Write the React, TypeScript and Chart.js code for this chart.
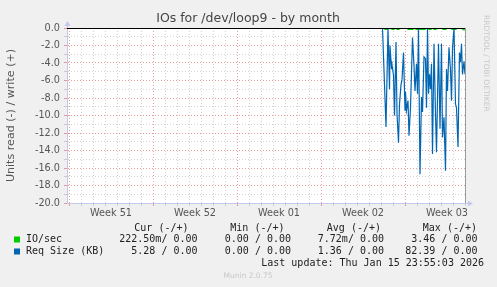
import React, { useEffect, useRef } from "react";
import { Chart, registerables } from "chart.js";
Chart.register(...registerables);

const TITLE = "IOs for /dev/loop9 - by month";
const Y_TITLE = "Units read (-) / write (+)";
const SIDE_TEXT = "RRDTOOL / TOBI OETIKER";
const FOOTER = "Munin 2.0.75";
const LAST_UPDATE = "Last update: Thu Jan 15 23:55:03 2026";

// x values are hours from the left edge of the graph
const WEEK_LABELS = ["Week 51", "Week 52", "Week 01", "Week 02", "Week 03"];
const WEEK_START_OFFSET = 4;
const HOURS_PER_WEEK = 168;
const X_MAX = 796;

const reqHours = [0, 631, 638, 642, 645, 646, 649, 650, 653, 655, 658, 660, 663, 665, 668, 670, 673, 676, 677, 679, 682, 684, 687, 691, 694, 696, 699, 701, 703, 706, 709, 711, 714, 717, 719, 721, 723, 725, 727, 729, 731, 734, 737, 739, 743, 746, 749, 751, 754, 757, 759, 761, 764, 767, 769, 771, 774, 777, 779, 782, 785, 787, 789, 791, 794, 796];
const reqRead = [0, 0, -11.3, -0.1, -7.0, -2.0, -4.7, -4.2, -5.4, -10.0, -1.6, -9.8, -13.1, -8.7, -6.5, -5.9, -2.8, -9.4, -7.3, -9.4, -8.3, -12.3, -9.1, -1.1, -4.3, -7.2, -4.1, -7.5, -0.1, -16.7, -7.9, -9.6, -3.3, -3.5, -9.1, 0, -7.5, -5.3, -7.0, -4.1, -14.4, -1.8, -9.8, -14.2, -1.8, -11.5, -1.8, -12.5, -10.2, -16.3, -4.7, -7.2, -2.2, -4.8, -8.3, -2.3, 0, -8.7, -9.1, -13.6, -2.8, -3.9, -1.8, -5.3, -3.8, -5.28];

const ioHours = [0, 634, 636, 640, 642, 648, 650, 654, 656, 658, 660, 664, 666, 680, 682, 692, 694, 696, 698, 716, 718, 722, 724, 728, 730, 732, 734, 738, 740, 750, 752, 758, 760, 768, 770, 778, 780, 790, 792, 796];
const ioRead = [0, 0, -0.15, -0.15, 0, 0, -0.15, -0.15, 0, 0, -0.15, -0.15, 0, 0, -0.15, -0.15, 0, 0, -0.15, -0.15, 0, 0, -0.15, -0.15, 0, 0, -0.15, -0.15, 0, 0, -0.15, -0.15, 0, 0, -0.15, -0.15, 0, 0, -0.2, -0.22];

const Y_MIN = -20;
const Y_MAX = 0;

const SERIES_NAMES = ["IO/sec", "Req Size (KB)"];
const SERIES_COLORS = ["#00cc00", "#0066b3"];
const LEGEND_HEADERS = ["Cur (-/+)", "Min (-/+)", "Avg (-/+)", "Max (-/+)"];
const IO_STATS = ["222.50m/ 0.00", "0.00 / 0.00", "7.72m/ 0.00", "3.46 / 0.00"];
const REQ_STATS = ["5.28 / 0.00", "0.00 / 0.00", "1.36 / 0.00", "82.39 / 0.00"];

const MINOR_GRID = "rgba(150,150,150,0.42)";
const MAJOR_GRID = "rgba(222,90,90,0.6)";
const AXIS_COLOR = "#c4c8ee";

export default function App() {
  const ref = useRef<HTMLCanvasElement>(null);

  useEffect(() => {
    const canvas = ref.current;
    if (!canvas) return;

    const xTicks: number[] = [];
    for (let v = WEEK_START_OFFSET; v <= X_MAX; v += 12) xTicks.push(v);

    const decor = {
      id: "munin",
      beforeDraw(chart: any) {
        const { ctx, chartArea } = chart;
        ctx.save();
        ctx.fillStyle = "#f0f0f0";
        ctx.fillRect(0, 0, chart.width, chart.height);
        ctx.fillStyle = "#ffffff";
        ctx.fillRect(chartArea.left, chartArea.top, chartArea.right - chartArea.left, chartArea.bottom - chartArea.top);
        ctx.restore();
      },
      afterDatasetsDraw(chart: any) {
        const { ctx, chartArea, scales } = chart;
        const y0 = Math.round(scales.y.getPixelForValue(0)) + 0.5;
        ctx.save();
        ctx.strokeStyle = "#000000";
        ctx.lineWidth = 1;
        ctx.beginPath();
        ctx.moveTo(chartArea.left, y0);
        ctx.lineTo(chartArea.right, y0);
        ctx.stroke();
        const xr = Math.round(scales.x.getPixelForValue(X_MAX)) + 0.5;
        ctx.strokeStyle = "#9a9a9a";
        ctx.beginPath();
        ctx.moveTo(xr, chartArea.top);
        ctx.lineTo(xr, chartArea.bottom);
        ctx.stroke();
        ctx.restore();
      },
      afterDraw(chart: any) {
        const { ctx, chartArea } = chart;
        ctx.save();
        // axis arrows
        ctx.fillStyle = AXIS_COLOR;
        const lx = chartArea.left + 0.5;
        ctx.beginPath();
        ctx.moveTo(lx - 3, chartArea.top - 2);
        ctx.lineTo(lx + 3, chartArea.top - 2);
        ctx.lineTo(lx, chartArea.top - 7);
        ctx.closePath();
        ctx.fill();
        ctx.fillRect(lx - 0.5, chartArea.top - 3, 1, 3);
        const by = chartArea.bottom + 0.5;
        ctx.beginPath();
        ctx.moveTo(chartArea.right + 3, by - 3);
        ctx.lineTo(chartArea.right + 3, by + 3);
        ctx.lineTo(chartArea.right + 8, by);
        ctx.closePath();
        ctx.fill();
        ctx.fillRect(chartArea.right, by - 0.5, 4, 1);

        // title
        ctx.fillStyle = "#444444";
        ctx.font = "12.5px 'DejaVu Sans'";
        ctx.textAlign = "center";
        ctx.textBaseline = "middle";
        ctx.fillText(TITLE, 248, 19);

        // side text
        ctx.save();
        ctx.translate(486, 15);
        ctx.rotate(Math.PI / 2);
        ctx.fillStyle = "#c8c8c8";
        ctx.font = "7.5px 'DejaVu Sans'";
        ctx.textAlign = "left";
        ctx.textBaseline = "middle";
        ctx.fillText(SIDE_TEXT, 0, 0);
        ctx.restore();

        // legend
        ctx.font = "10px 'DejaVu Sans Mono'";
        ctx.fillStyle = "#222222";
        ctx.textBaseline = "middle";
        ctx.textAlign = "right";
        const headerEnds = [188.5, 284.5, 381, 477];
        const valueEnds = [197.5, 291, 384, 477.5];
        LEGEND_HEADERS.forEach((h, i) => ctx.fillText(h, headerEnds[i], 228.5));
        const rows = [IO_STATS, REQ_STATS];
        const rowY = [239.5, 251.5];
        rows.forEach((row, r) => {
          ctx.fillStyle = SERIES_COLORS[r];
          ctx.fillRect(14, rowY[r] - 3, 6, 6);
          ctx.fillStyle = "#222222";
          ctx.textAlign = "left";
          ctx.fillText(SERIES_NAMES[r], 26, rowY[r]);
          ctx.textAlign = "right";
          row.forEach((v, i) => ctx.fillText(v, valueEnds[i], rowY[r]));
        });
        ctx.fillText(LAST_UPDATE, 484, 263.5);

        ctx.fillStyle = "#c8c8c8";
        ctx.font = "7.5px 'DejaVu Sans'";
        ctx.textAlign = "center";
        ctx.fillText(FOOTER, 248, 276);
        ctx.restore();
      },
    };

    const chart = new Chart(canvas, {
      type: "line",
      data: {
        datasets: [
          {
            label: SERIES_NAMES[1],
            data: reqHours.map((h, i) => ({ x: h, y: reqRead[i] })),
            borderColor: SERIES_COLORS[1],
            borderWidth: 1.2,
            pointRadius: 0,
            tension: 0,
            fill: false,
          },
          {
            label: SERIES_NAMES[0],
            data: ioHours.map((h, i) => ({ x: h, y: ioRead[i] })),
            borderColor: SERIES_COLORS[0],
            borderWidth: 1.2,
            pointRadius: 0,
            tension: 0,
            fill: false,
          },
        ],
      },
      options: {
        animation: false,
        responsive: false,
        devicePixelRatio: 1,
        events: [],
        layout: { padding: { left: 0, top: 28, right: 32, bottom: 64 } },
        plugins: {
          legend: { display: false },
          tooltip: { enabled: false },
          title: { display: false },
        },
        scales: {
          x: {
            type: "linear",
            min: 0,
            max: X_MAX,
            afterBuildTicks: (scale: any) => {
              scale.ticks = xTicks.map((v) => ({ value: v }));
            },
            afterFit: (scale: any) => {
              scale.height = 20;
            },
            ticks: {
              autoSkip: false,
              maxRotation: 0,
              minRotation: 0,
              padding: 1.5,
              color: "#555555",
              font: { family: "'DejaVu Sans'", size: 9.7 },
              callback: (value: any) => {
                const rel = Number(value) - WEEK_START_OFFSET;
                if (rel % HOURS_PER_WEEK === HOURS_PER_WEEK / 2) {
                  return WEEK_LABELS[Math.floor(rel / HOURS_PER_WEEK)] ?? "";
                }
                return "";
              },
            },
            grid: {
              color: (ctx: any) => {
                const rel = ctx.tick.value - WEEK_START_OFFSET;
                if (rel % HOURS_PER_WEEK === 0) return MAJOR_GRID;
                if (rel % 24 === 0) return MINOR_GRID;
                return "rgba(0,0,0,0)";
              },
              tickLength: 3,
              tickBorderDash: [],
            },
            border: { color: AXIS_COLOR, width: 1, dash: [1, 2] },
          },
          y: {
            type: "linear",
            min: Y_MIN,
            max: Y_MAX,
            afterFit: (scale: any) => {
              scale.width = 67;
            },
            ticks: {
              stepSize: 1,
              autoSkip: false,
              padding: 4,
              color: "#555555",
              font: { family: "'DejaVu Sans'", size: 9.7 },
              callback: (value: any) => {
                const v = Number(value);
                return Math.abs(v % 2) === 0 ? (v === 0 ? 0 : v).toFixed(1) : "";
              },
            },
            grid: {
              color: (ctx: any) => (Math.abs(ctx.tick.value % 2) === 0 ? MAJOR_GRID : MINOR_GRID),
              tickLength: 3,
              tickBorderDash: [],
            },
            border: { color: AXIS_COLOR, width: 1, dash: [1, 2] },
            title: {
              display: true,
              text: Y_TITLE,
              color: "#555555",
              font: { family: "'DejaVu Sans'", size: 11.1 },
              padding: { top: 4, bottom: 0 },
            },
          },
        },
      },
      plugins: [decor],
    } as any);

    return () => chart.destroy();
  }, []);

  return (
    <div style={{ position: "fixed", left: 0, top: 0, width: 497, height: 287, background: "#f0f0f0" }}>
      <canvas ref={ref} width={497} height={287} style={{ width: 497, height: 287, display: "block" }} />
    </div>
  );
}
